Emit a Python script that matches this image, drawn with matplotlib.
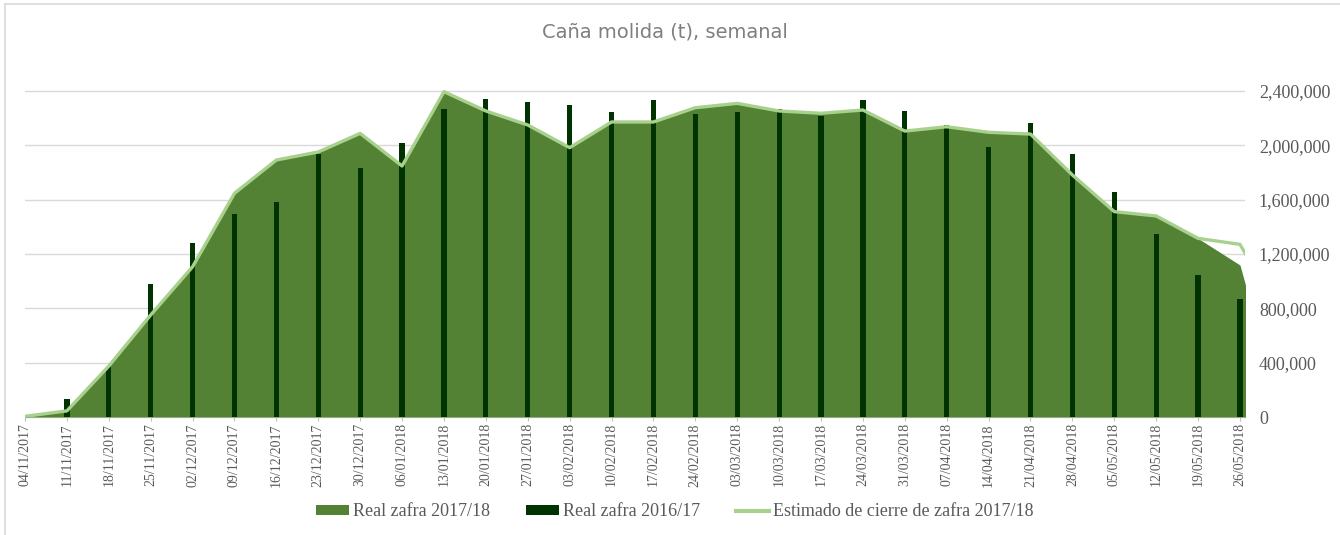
import matplotlib
matplotlib.use("Agg")
import matplotlib.pyplot as plt
from matplotlib.patches import Patch
from matplotlib.lines import Line2D
from matplotlib.ticker import FuncFormatter

# ---------------- data ----------------
weeks = ["04/11/2017", "11/11/2017", "18/11/2017", "25/11/2017", "02/12/2017",
         "09/12/2017", "16/12/2017", "23/12/2017", "30/12/2017", "06/01/2018",
         "13/01/2018", "20/01/2018", "27/01/2018", "03/02/2018", "10/02/2018",
         "17/02/2018", "24/02/2018", "03/03/2018", "10/03/2018", "17/03/2018",
         "24/03/2018", "31/03/2018", "07/04/2018", "14/04/2018", "21/04/2018",
         "28/04/2018", "05/05/2018", "12/05/2018", "19/05/2018", "26/05/2018"]
# one more week beyond the visible axis (clipped at the right edge)
extra_week = "02/06/2018"

real_2017_18 = [5000, 45000, 375000, 751000, 1106000, 1647000, 1892000, 1951000,
                2088000, 1848000, 2395000, 2253000, 2150000, 1983000, 2172000,
                2172000, 2277000, 2309000, 2253000, 2236000, 2260000, 2105000,
                2137000, 2096000, 2083000, 1782000, 1512000, 1480000, 1315000,
                1119000, 0]
real_2016_17 = [0, 130000, 366000, 977000, 1283000, 1492000, 1583000, 1938000,
                1831000, 2019000, 2265000, 2341000, 2317000, 2297000, 2243000,
                2331000, 2233000, 2245000, 2270000, 2218000, 2334000, 2255000,
                2150000, 1985000, 2167000, 1936000, 1659000, 1350000, 1045000,
                869000]
estimado_2017_18 = [5000, 45000, 375000, 751000, 1106000, 1647000, 1892000, 1951000,
                    2088000, 1848000, 2395000, 2253000, 2150000, 1983000, 2172000,
                    2172000, 2277000, 2309000, 2253000, 2236000, 2260000, 2105000,
                    2137000, 2096000, 2083000, 1782000, 1512000, 1480000, 1315000,
                    1271000, 740000]

y_ticks = [0, 400000, 800000, 1200000, 1600000, 2000000, 2400000]

title = "Caña molida (t), semanal"
labels = ["Real zafra 2017/18", "Real zafra 2016/17", "Estimado de cierre de zafra 2017/18"]

# ---------------- style ----------------
c_area = "#548235"
c_bar = "#003300"
c_line = "#A9D18E"
c_grid = "#D9D9D9"
c_text = "#595959"
serif = ["Liberation Serif", "DejaVu Serif"]

W, H = 1340, 535
fig = plt.figure(figsize=(W / 100, H / 100), dpi=100)
fig.patch.set_facecolor("white")

# axes placement (pixel based)
left_px, right_px = 25, 1245
zero_px, top_grid_px = 417, 91
ymax = 2450000
top_px = zero_px - (zero_px - top_grid_px) * ymax / 2400000
ax = fig.add_axes([left_px / W, 1 - zero_px / H, (right_px - left_px) / W,
                   (zero_px - top_px) / H])

x_all = list(range(len(weeks) + 1))
x = list(range(len(weeks)))

ax.fill_between(x_all, real_2017_18, color=c_area, lw=0, zorder=2)
ax.bar(x, real_2016_17, width=0.125, color=c_bar, zorder=3)
ax.plot(x_all, estimado_2017_18, color=c_line, lw=2.4, zorder=4,
        solid_joinstyle="round")

ax.set_xlim(0, 29.12)
ax.set_ylim(0, ymax)

ax.set_yticks(y_ticks)
ax.yaxis.tick_right()
ax.yaxis.set_major_formatter(FuncFormatter(lambda v, p: f"{int(v):,}"))
ax.tick_params(axis="y", length=0, pad=10, labelsize=13, labelcolor=c_text)
for t in ax.get_yticklabels():
    t.set_family(serif)
ax.grid(axis="y", color=c_grid, lw=1.0, zorder=1)
ax.set_axisbelow(True)

ax.set_xticks(x)
ax.set_xticklabels(weeks, rotation=90, fontsize=10, color=c_text, family=serif)
ax.tick_params(axis="x", length=3, width=0.8, color="#BFBFBF", pad=1.5)

for s in ["left", "right", "top"]:
    ax.spines[s].set_visible(False)
ax.spines["bottom"].set_color(c_grid)
ax.spines["bottom"].set_linewidth(1.0)
ax.spines["bottom"].set_zorder(1)

fig.text(665 / W, 1 - 32 / H, title, ha="center", va="center", fontsize=14,
         color="#7F7F7F", family="DejaVu Sans")

handles = [Patch(facecolor=c_area, edgecolor="none"),
           Patch(facecolor=c_bar, edgecolor="none"),
           Line2D([0], [0], color=c_line, lw=3)]
fig.legend(handles, labels, loc="center", bbox_to_anchor=(675 / W, 1 - 512 / H),
           ncol=3, frameon=False, prop={"family": serif, "size": 13},
           labelcolor=c_text, handlelength=1.8, handleheight=0.5,
           handletextpad=0.25, columnspacing=2.0)

# chart frame (partially visible)
fig.add_artist(Line2D([5 / W, 5 / W], [0, 1 - 4 / H], transform=fig.transFigure,
                      color=c_grid, lw=1.2))
fig.add_artist(Line2D([5 / W, 1], [1 - 4 / H, 1 - 4 / H], transform=fig.transFigure,
                      color=c_grid, lw=1.2))

fig.savefig("out.png", dpi=100, facecolor="white")
